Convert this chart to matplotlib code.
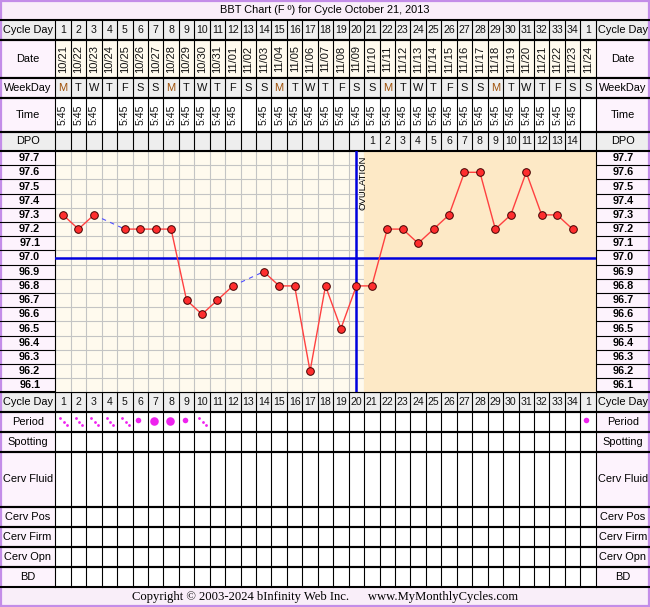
import matplotlib.pyplot as plt
import numpy as np

plt.rcParams['font.family'] = ['Liberation Sans', 'DejaVu Sans']

title = 'BBT Chart (F º) for Cycle October 21, 2013'
cycle_days = list(range(1, 35)) + [1]
dates = ['10/21', '10/22', '10/23', '10/24', '10/25', '10/26', '10/27', '10/28',
         '10/29', '10/30', '10/31', '11/01', '11/02', '11/03', '11/04', '11/05',
         '11/06', '11/07', '11/08', '11/09', '11/10', '11/11', '11/12', '11/13',
         '11/14', '11/15', '11/16', '11/17', '11/18', '11/19', '11/20', '11/21',
         '11/22', '11/23', '11/24']
weekdays = list('MTWTFSS' * 5)
times = ['5:45'] * 35
times[3] = times[12] = times[34] = ''
dpo = [''] * 20 + [str(i) for i in range(1, 15)] + ['']
temps = [97.3, 97.2, 97.3, np.nan, 97.2, 97.2, 97.2, 97.2, 96.7, 96.6,
         96.7, 96.8, np.nan, 96.9, 96.8, 96.8, 96.2, 96.8, 96.5, 96.8,
         96.8, 97.2, 97.2, 97.1, 97.2, 97.3, 97.6, 97.6, 97.2, 97.3,
         97.6, 97.3, 97.3, 97.2, np.nan]
# s = spotting dots, l = light, h = heavy
period = ['s', 's', 's', 's', 's', 'l', 'h', 'h', 'l', 's'] + [''] * 24 + ['l']
temp_labels = [f'{t:.1f}' for t in np.arange(96.1, 97.75, 0.1)]
coverline = 97.0
ovulation_day = 20
bottom_labels = ['Period', 'Spotting', 'Cerv Fluid', 'Cerv Pos', 'Cerv Firm', 'Cerv Opn', 'BD']

W, H = 650, 607
X0, X1 = 55.3, 595.7
N = len(cycle_days)
P = (X1 - X0) / N
CT, CB = 151.0, 392.4   # chart top / bottom in pixels
GRAY, PINK, CREAM, ORANGE = '#eeeeee', '#fdf3fd', '#fffaee', '#fde9c6'


def cx(i):
    return X0 + (i + 0.5) * P


fig = plt.figure(figsize=(W / 100, H / 100), dpi=100)
bg = fig.add_axes([0, 0, 1, 1])
bg.set_xlim(0, W)
bg.set_ylim(H, 0)
bg.axis('off')


def rect(x0, y0, x1, y1, fc, **kw):
    bg.add_patch(plt.Rectangle((x0, y0), x1 - x0, y1 - y0, fc=fc, ec='none', **kw))


# title and footer bars
rect(0, 0, W, 20, '#f9eef9')
rect(0, 587, W, H, '#f9eef9')
bg.text(W / 2, 10, title, ha='center', va='center', fontsize=7.9)
bg.text(325, 597, 'Copyright © 2003-2024 bInfinity Web Inc.      www.MyMonthlyCycles.com',
        ha='center', va='center', fontsize=9.1, family='Liberation Serif')

# header rows: label, top, bottom, label bg, cell bg, values, rotation, fontsize
top_rows = [('Cycle Day', 20, 40, GRAY, GRAY, [str(c) for c in cycle_days], 0, 7.6),
            ('Date', 40, 78, PINK, CREAM, dates, 90, 8),
            ('WeekDay', 78, 98, PINK, GRAY, weekdays, 0, 7.9),
            ('Time', 98, 132, PINK, 'white', times, 90, 7.6),
            ('DPO', 132, CT, GRAY, GRAY, dpo, 0, 7.6)]
bottom_rows = [('Cycle Day', CB, 412, GRAY, GRAY, [str(c) for c in cycle_days], 0, 7.6)]
bounds = [412, 432, 452, 507, 527, 547, 567, 587]
for lab, y0, y1 in zip(bottom_labels, bounds[:-1], bounds[1:]):
    bottom_rows.append((lab, y0, y1, PINK, 'white', [''] * N, 0, 7.6))

for lab, y0, y1, lbg, cbg, vals, rot, fs in top_rows + bottom_rows:
    rect(0, y0, X0, y1, lbg)
    rect(X1, y0, W, y1, lbg)
    rect(X0, y0, X1, y1, cbg)
    ym = (y0 + y1) / 2
    bg.text(X0 / 2, ym, lab, ha='center', va='center', fontsize=7.9)
    bg.text((X1 + W) / 2, ym, lab, ha='center', va='center', fontsize=7.9)
    for i, v in enumerate(vals):
        c = '#a0520a' if (lab == 'WeekDay' and v == 'M') else '#111111'
        bg.text(cx(i), ym, v, ha='center', va='center', rotation=rot, fontsize=fs, color=c)
    bg.plot([0, W], [y1, y1], color='black', lw=1.5)
    bg.plot([0, W], [y0, y0], color='black', lw=1.5)

for k in range(N + 1):
    x = X0 + k * P
    bg.plot([x, x], [20, CT], color='black', lw=0.8)
    bg.plot([x, x], [CB, 587], color='black', lw=0.8)

# temperature label columns
rect(0, CT, X0, CB, PINK)
rect(X1, CT, W, CB, PINK)
step = (CB - CT) / len(temp_labels)
for j, t in enumerate(reversed(temp_labels)):
    ym = CT + (j + 0.5) * step
    bg.text(X0 / 2 + 2, ym, t, ha='center', va='center', fontsize=7.8, weight='bold')
    bg.text((X1 + W) / 2, ym, t, ha='center', va='center', fontsize=7.8, weight='bold')
    bg.plot([0, X0], [CT + (j + 1) * step] * 2, color='black', lw=0.8)
    bg.plot([X1, W], [CT + (j + 1) * step] * 2, color='black', lw=0.8)

# period symbols
for i, p in enumerate(period):
    x0 = X0 + i * P
    if p == 's':
        bg.scatter([x0 + 0.32 * P, x0 + 0.55 * P, x0 + 0.75 * P], [418, 421.5, 425],
                   s=4, color='#ee22ee', lw=0, zorder=5)
    elif p == 'l':
        bg.scatter([x0 + 0.38 * P], [419.5], s=16, color='#ee22ee', lw=0, zorder=5)
    elif p == 'h':
        bg.scatter([x0 + 0.4 * P], [420.5], s=38, color='#ee22ee', lw=0, zorder=5)

# outer border
bg.add_patch(plt.Rectangle((1, 1), W - 2, H - 2, fc='none', ec='#c38de8', lw=1.6))

# chart
ax = fig.add_axes([X0 / W, 1 - CB / H, (X1 - X0) / W, (CB - CT) / H])
day = np.arange(1, N + 1)
ax.set_xlim(0.5, N + 0.5)
ax.set_ylim(96.05, 97.75)
ax.set_facecolor(CREAM)
ax.axvspan(ovulation_day + 0.5, N + 0.5, color=ORANGE, lw=0)
ax.set_xticks(np.arange(0.5, N + 0.6, 1))
ax.set_yticks(np.arange(96.05, 97.76, 0.1))
ax.grid(color='#c4c4c4', lw=0.8)
ax.set_axisbelow(True)
ax.tick_params(length=0, labelbottom=False, labelleft=False)
for s in ax.spines.values():
    s.set_color('black')
    s.set_linewidth(0.8)

t = np.array(temps)
# dashed bridges across missing readings
ok = np.where(~np.isnan(t))[0]
for a, b in zip(ok[:-1], ok[1:]):
    if b - a > 1:
        ax.plot(day[[a, b]], t[[a, b]], color='#5050ff', lw=0.8, ls=(0, (4, 4)), zorder=3)
ax.axhline(coverline, color='#0000dd', lw=1.8, zorder=3)
ax.axvline(ovulation_day, color='#0000dd', lw=1.8, zorder=3)
ax.text(ovulation_day + 0.45, 97.715, 'OVULATION', rotation=90, ha='center', va='top',
        fontsize=6.8)
ax.plot(day, t, color='#ff4040', lw=1, marker='o', ms=5.5, mfc='#ff2e2e',
        mec='#400000', mew=0.7, zorder=4)

fig.savefig('out.png', dpi=100)
